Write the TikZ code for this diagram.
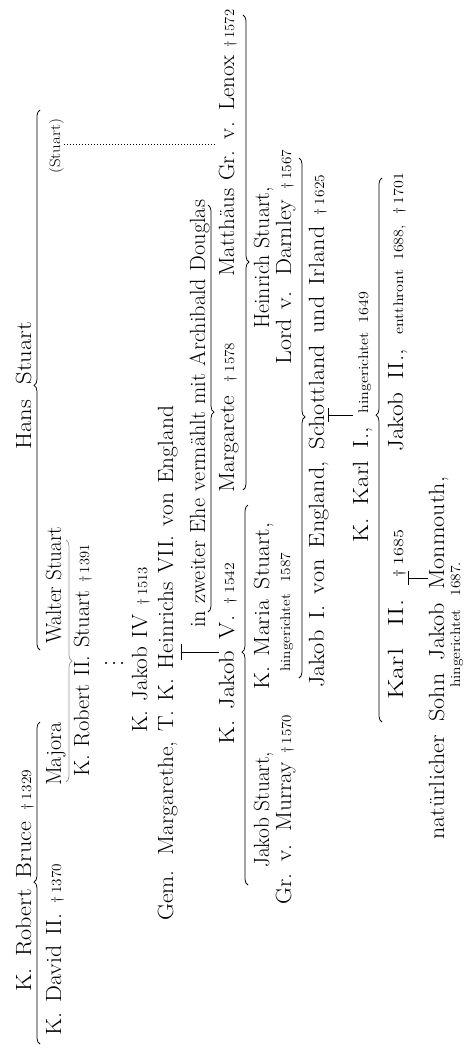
\documentclass[tikz,border=0pt]{standalone}
\usepackage{fontspec}
\usepackage{graphicx}
\usetikzlibrary{decorations.pathreplacing,calc}
\newcommand\sm{\fontsize{14}{16}\selectfont}
\newcommand\dg[1]{{\sm\dag\kern3pt#1}}
\newlength\fitL
\newlength\fitM
\newcommand\fitw[2]{\setlength\fitL{#1pt}\setbox0\hbox{#2}%
  \ifdim\wd0>\fitL\resizebox{\fitL}{\height}{\box0}%
  \else\setlength\fitM{\dimexpr\wd0+(\fitL-\wd0)*35/100\relax}%
  \resizebox{\fitL}{\height}{\hbox to \fitM{#2}}\fi}
\begin{document}
\begin{tikzpicture}[x=1pt,y=-1pt,
  nm/.style={rotate=90,anchor=base west,inner sep=0pt,font=\fontsize{22}{24}\selectfont\addfontfeature{FakeBold=1.6}},
  smnm/.style={nm,font=\fontsize{14}{16}\selectfont\addfontfeature{FakeBold=1.6}},
  ln/.style={line width=0.75pt},
  kids/.style={decorate,decoration={brace,amplitude=6pt,aspect=#1},line width=0.75pt},
  wed/.style={decorate,decoration={brace,amplitude=6pt,aspect=#1},line width=0.75pt},
  faint/.style={draw=black!40},
  dotline/.style={line width=0.7pt,dash pattern=on 0.8pt off 2.2pt}]
\fill[white] (0,0) rectangle (476,1050);
\useasboundingbox (0,0) rectangle (476,1050);

% generation texts
\node[nm] (bruce) at (31,992) {\fitw{222}{K. Robert Bruce \dg{1329}}};
\node[nm] (hans) at (31,450) {\fitw{128}{Hans Stuart}};
\node[nm] (david) at (61,1036) {\fitw{172}{K. David II. \dg{1370}}};
\node[nm] (majora) at (61,786) {\fitw{64}{Majora}};
\node[nm] (walter) at (61,644) {\fitw{117}{Walter Stuart}};
\node[smnm,font=\fontsize{15}{17}\selectfont\addfontfeature{FakeBold=1.6}] (stuart) at (60,174) {\fitw{59}{(Stuart)}};
\node[nm] (robert2) at (89,777) {\fitw{232}{K. Robert II. Stuart \dg{1391}}};
\node[nm] (jakob4) at (147,733) {\fitw{166}{K. Jakob IV \dg{1513}}};
\node[nm] (gem) at (173,921) {\fitw{515}{Gem. Margarethe, T. K. Heinrichs VII. von England}};
\node[nm] (zweite) at (205,628) {\fitw{428}{in zweiter Ehe vermählt mit Archibald Douglas}};
\node[nm] (jakob5) at (234,745) {\fitw{182}{K. Jakob V. \dg{1542}}};
\node[nm] (margarete) at (234,493) {\fitw{150}{Margarete \dg{1578}}};
\node[nm] (matthaeus) at (234,277) {\fitw{267}{Matthäus Gr. v. Lenox \dg{1572}}};
\node[nm] (jstuart) at (269,868) {\fitw{116}{Jakob Stuart,}};
\node[nm] (murray) at (291,905) {\fitw{190}{Gr. v. Murray \dg{1570}}};
\node[nm] (maria) at (269,690) {\fitw{167}{K. Maria Stuart,}};
\node[smnm] (hing1) at (290,672) {\fitw{119}{hingerichtet 1587}};
\node[nm] (heinrich) at (269,329) {\fitw{142}{Heinrich Stuart,}};
\node[nm] (darnley) at (291,365) {\fitw{215}{Lord v. Darnley \dg{1567}}};
\node[nm] (jakob1) at (324,688) {\fitw{513}{Jakob I. von England, Schottland und Irland \dg{1625}}};
\node[nm] (karl1) at (368,543) {\fitw{251}{K. Karl I., {\sm hingerichtet 1649}}};
\node[nm] (karl2) at (403,700) {\fitw{170}{Karl II. \dg{1685}}};
\node[nm] (jakob2) at (403,452) {\fitw{279}{Jakob II., {\sm entthront 1688, \dag\kern3pt1701}}};
\node[nm] (monmouth) at (444,840) {\fitw{363}{natürlicher Sohn Jakob Monmouth,}};
\node[smnm] (hing2) at (460,688) {\fitw{126}{hingerichtet 1687.}};

% brace end points
\coordinate (b1a) at (40,1044); \coordinate (b1b) at (40,722);
\coordinate (b2a) at (40,650);  \coordinate (b2b) at (40,110);
\coordinate (w1a) at (66,540);  \coordinate (w1b) at (66,782);
\coordinate (w2a) at (208,205); \coordinate (w2b) at (208,612);
\coordinate (b3a) at (248,885); \coordinate (b3b) at (248,505);
\coordinate (w3a) at (243,15);  \coordinate (w3b) at (243,490);
\coordinate (w4a) at (299,158); \coordinate (w4b) at (299,678);
\coordinate (b4a) at (382,722); \coordinate (b4b) at (382,178);

% children braces (tip towards parent)
\draw[kids=0.503] (b1a) -- (b1b);
\draw[kids=0.49]  (b2a) -- (b2b);
\draw[kids=0.613] (b3a) -- (b3b);
\draw[kids=0.564] (b4a) -- (b4b);
% marriage braces (tip towards child)
\draw[wed=0.5,faint] (w1a) -- (w1b);
\draw[wed=0.509] (w2a) -- (w2b);
\draw[wed=0.52]  (w3a) -- (w3b);
\draw[wed=0.498] (w4a) -- (w4b);

% descent dots
\foreach \xx in {106,114,122} \fill (\xx,663) circle (1.1pt);

% descent lines
\coordinate (t1) at (181,652);
\draw[ln] (t1) -- (t1 -| jakob5.north);
\draw[ln] ($(t1)+(0,-8)$) -- ($(t1)+(0,8)$);
\coordinate (t2) at (328,415);
\draw[ln] (t2) -- (t2 -| karl1.north);
\draw[ln] ($(t2)+(0,-7)$) -- ($(t2)+(0,7)$);
\coordinate (t3) at (408,578);
\draw[ln] (t3) -- (t3 -| monmouth.north);
\draw[ln] ($(t3)+(0,-7)$) -- ($(t3)+(0,7)$);

% dotted link
\draw[dotline,shorten >=4pt] (stuart.south) -- (stuart.south -| matthaeus.north);
\end{tikzpicture}
\end{document}
